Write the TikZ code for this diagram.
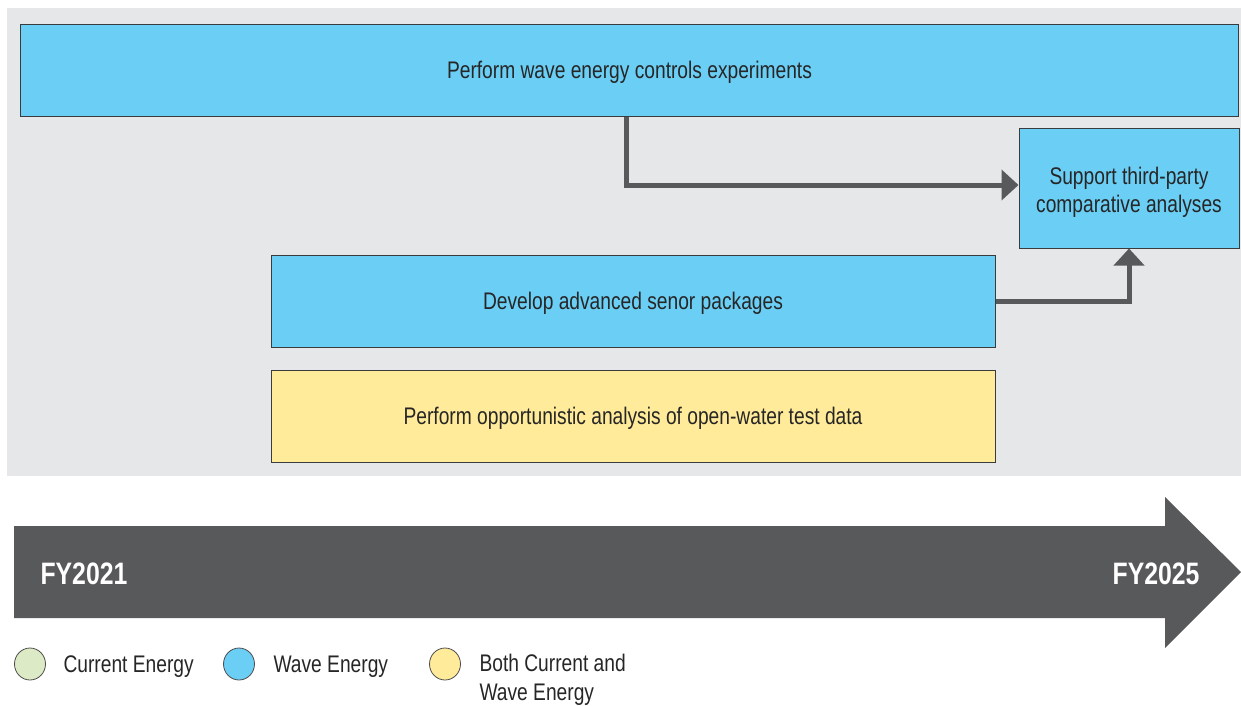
\documentclass[tikz,border=0pt]{standalone}
\usepackage{fontspec}
\setmainfont{Liberation Sans}[FakeStretch=0.8]
\usetikzlibrary{arrows.meta,shapes.geometric}
\definecolor{bg}{HTML}{E6E7E8}
\definecolor{wave}{HTML}{6BCEF5}
\definecolor{both}{HTML}{FFEB99}
\definecolor{curr}{HTML}{DCEBC5}
\definecolor{dark}{HTML}{58595B}
\definecolor{edge}{HTML}{3A3B3D}
\tikzset{
  task/.style={draw=edge, line width=1pt, inner sep=0pt, text depth=0pt, font=\fontsize{24}{28}\selectfont, text=black!85, align=center},
  conn/.style={draw=dark, line width=5pt, -{Triangle[length=17pt,width=30pt]}},
  legdot/.style={ellipse, draw=black!70, line width=0.8pt, minimum width=31pt, minimum height=32pt, inner sep=0pt},
  legtext/.style={anchor=west, font=\fontsize{24}{29}\selectfont, text=black!85, align=left},
  fy/.style={font=\fontsize{31}{32}\selectfont\bfseries, text=white}
}
\begin{document}
\begin{tikzpicture}[x=1pt,y=-1pt]
\useasboundingbox (0,0) rectangle (1241,705);
\fill[bg] (7,8) rectangle (1241,476);
\node[task, fill=wave, minimum width=1218pt, minimum height=92pt] (ctrl) at (629.5,70) {Perform wave energy controls experiments};
\node[task, fill=wave, minimum width=220pt, minimum height=120pt] (supp) at (1129,188) {\raisebox{-4pt}{Support third-party}\\\raisebox{-4pt}{comparative analyses}};
\node[task, fill=wave, minimum width=724pt, minimum height=92pt] (sens) at (633,301) {Develop advanced senor packages};
\node[task, fill=both, minimum width=724pt, minimum height=92pt] (open) at (633,416) {Perform opportunistic analysis of open-water test data};
\draw[conn] (ctrl.south -| 626,0) |- ([yshift=3pt]supp.west);
\draw[conn] (sens.east) -| (supp.south);
\fill[dark] (14,526) -- (1165,526) -- (1165,497) -- (1241,572) -- (1165,648) -- (1165,618) -- (14,618) -- cycle;
\node[fy, anchor=west] (fy1) at (37,574) {FY2021};
\node[fy, anchor=east] (fy2) at (1203,574) {FY2025};
\node[legdot, fill=curr] (l1) at (30,664) {};
\node[legtext] (t1) at (60,667) {Current Energy};
\node[legdot, fill=wave] (l2) at (239,664) {};
\node[legtext] (t2) at (270,667) {Wave Energy};
\node[legdot, fill=both] (l3) at (445,664) {};
\node[legtext, anchor=north west] (t3) at (476,651) {Both Current and\\Wave Energy};
\end{tikzpicture}
\end{document}
